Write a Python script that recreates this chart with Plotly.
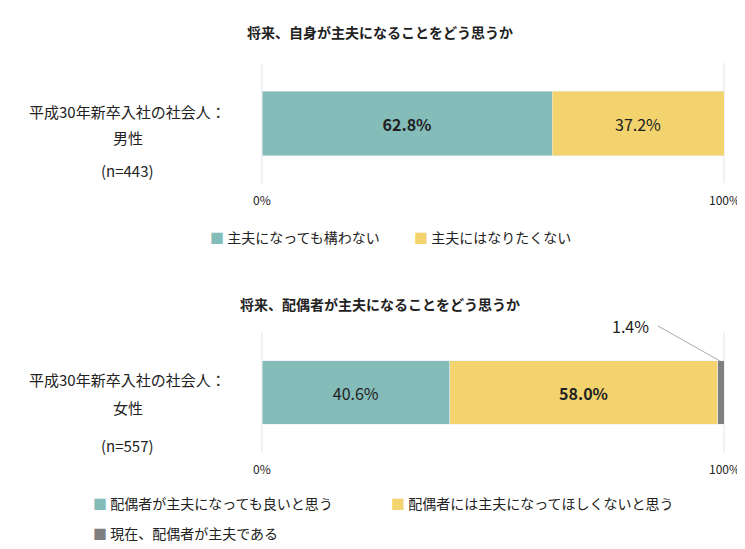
import plotly.graph_objects as go

top_cats = ["主夫になっても構わない", "主夫にはなりたくない"]
top_vals = [62.8, 37.2]
bot_cats = ["配偶者が主夫になっても良いと思う", "配偶者には主夫になってほしくないと思う", "現在、配偶者が主夫である"]
bot_vals = [40.6, 58.0, 1.4]
colors = ["#84BCB9", "#F3D36E", "#7F7F7F"]
FONT = "Noto Sans CJK JP"

fig = go.Figure()
for i, (c, v) in enumerate(zip(top_cats, top_vals)):
    fig.add_trace(go.Bar(x=[v], y=["m"], orientation="h", marker_color=colors[i], xaxis="x", yaxis="y",
                         text=[f"<b>{v:.1f}%</b>" if i == 0 else f"{v:.1f}%"], textposition="inside",
                         insidetextanchor="middle", textfont=dict(size=16, color="#222", family=FONT),
                         showlegend=False, hoverinfo="skip"))
for i, (c, v) in enumerate(zip(bot_cats, bot_vals)):
    txt = "" if i == 2 else (f"<b>{v:.1f}%</b>" if i == 1 else f"{v:.1f}%")
    fig.add_trace(go.Bar(x=[v], y=["f"], orientation="h", marker_color=colors[i], xaxis="x2", yaxis="y2",
                         text=[txt], textposition="inside", insidetextanchor="middle",
                         textfont=dict(size=16, color="#222", family=FONT),
                         showlegend=False, hoverinfo="skip"))

ax = dict(range=[0, 100], showgrid=False, zeroline=False, showticklabels=False, domain=[254/745, 716/745], fixedrange=True)
fig.update_layout(
    width=745, height=549, margin=dict(l=0, r=0, t=0, b=0), barmode="stack", bargap=0.2,
    plot_bgcolor="rgba(0,0,0,0)", paper_bgcolor="white", font=dict(family=FONT, color="#222"),
    xaxis=dict(**ax, anchor="y"),
    yaxis=dict(domain=[(549-156)/549, (549-75)/549], showticklabels=False, showgrid=False),
    xaxis2=dict(**ax, anchor="y2"),
    yaxis2=dict(domain=[(549-424)/549, (549-345)/549], showticklabels=False, showgrid=False),
)

def px(x, y):
    return x/745, 1 - y/549

shapes = []
for xx in (254, 716):
    for y0, y1 in ((55, 175), (325, 445)):
        shapes.append(dict(type="line", xref="paper", yref="paper", x0=xx/745, x1=xx/745,
                           y0=1-y0/549, y1=1-y1/549, line=dict(color="#e3e3e3", width=1), layer="below"))
X, Y = px(712, 353)
X0, Y0 = px(650, 318)
shapes.append(dict(type="line", xref="paper", yref="paper", x0=X0, y0=Y0, x1=X, y1=Y, line=dict(color="#aaa", width=1)))
fig.update_layout(shapes=shapes)

anns = []
def A(x, y, t, size=14, anchor="center"):
    X, Y = px(x, y)
    anns.append(dict(x=X, y=Y, xref="paper", yref="paper", text=t, showarrow=False, xanchor=anchor,
                     yanchor="middle", font=dict(size=size, family=FONT, color="#222")))

A(372, 24, "<b>将来、自身が主夫になることをどう思うか</b>", 14)
A(372, 296, "<b>将来、配偶者が主夫になることをどう思うか</b>", 14)
A(120, 103, "平成30年新卒入社の社会人：", 15)
A(120, 130, "男性", 15)
A(120, 162, "(n=443)", 15)
A(120, 371, "平成30年新卒入社の社会人：", 15)
A(120, 399, "女性", 15)
A(120, 437, "(n=557)", 15)
for yy in (191, 460):
    A(254, yy, "0%", 12)
    A(716, yy, "100%", 12)
A(200, 229, f"<span style='color:{colors[0]}'>■</span> 主夫になっても構わない", 14, "left")
A(404, 229, f"<span style='color:{colors[1]}'>■</span> 主夫にはなりたくない", 14, "left")
A(83, 495, f"<span style='color:{colors[0]}'>■</span> 配偶者が主夫になっても良いと思う", 14, "left")
A(381, 495, f"<span style='color:{colors[1]}'>■</span> 配偶者には主夫になってほしくないと思う", 14, "left")
A(83, 525, f"<span style='color:{colors[2]}'>■</span> 現在、配偶者が主夫である", 14, "left")
A(622, 318, f"{bot_vals[2]:.1f}%", 16)
fig.update_layout(annotations=anns)
fig.write_html("out.html")
